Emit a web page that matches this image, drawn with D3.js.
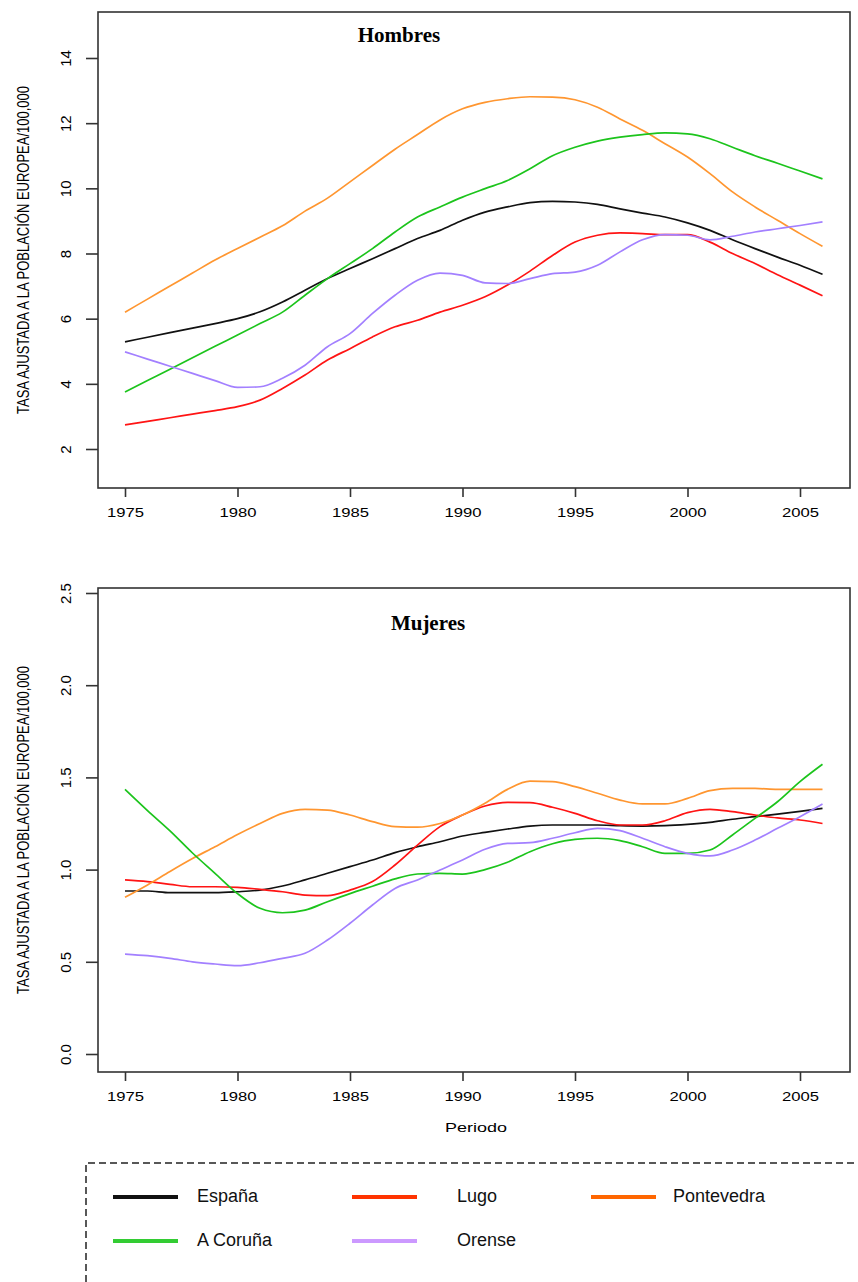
<!DOCTYPE html>
<html>
<head>
<meta charset="utf-8">
<script src="https://cdn.jsdelivr.net/npm/d3@7"></script>
<style>
  body { margin: 0; background: #fff; }
  svg { display: block; }
</style>
</head>
<body>
<script>
const years = [1975, 1976, 1977, 1978, 1979, 1980, 1981, 1982, 1983, 1984, 1985, 1986, 1987, 1988, 1989, 1990,
  1991, 1992, 1993, 1994, 1995, 1996, 1997, 1998, 1999, 2000, 2001, 2002, 2003, 2004, 2005, 2006]
const xTicks = [1975, 1980, 1985, 1990, 1995, 2000, 2005]

// Hombres
const hEspana = [5.29, 5.43, 5.57, 5.71, 5.85, 6.0, 6.21, 6.51, 6.87, 7.23, 7.54, 7.84, 8.15, 8.46, 8.71, 9.02,
  9.27, 9.43, 9.56, 9.6, 9.58, 9.51, 9.37, 9.24, 9.12, 8.94, 8.71, 8.42, 8.15, 7.89, 7.64, 7.36]
const hLugo = [2.74, 2.85, 2.96, 3.07, 3.18, 3.3, 3.5, 3.86, 4.27, 4.73, 5.08, 5.44, 5.75, 5.95, 6.2, 6.41,
  6.67, 7.03, 7.46, 7.94, 8.35, 8.56, 8.63, 8.61, 8.58, 8.58, 8.35, 8.0, 7.69, 7.35, 7.03, 6.7]
const hPontevedra = [6.2, 6.6, 7.0, 7.4, 7.8, 8.15, 8.5, 8.85, 9.3, 9.7, 10.2, 10.7, 11.2, 11.65, 12.1, 12.44,
  12.64, 12.75, 12.81, 12.8, 12.72, 12.49, 12.13, 11.78, 11.37, 10.96, 10.45, 9.89, 9.43, 9.02, 8.61, 8.22]
const hCoruna = [3.75, 4.1, 4.45, 4.8, 5.15, 5.5, 5.85, 6.2, 6.72, 7.23, 7.69, 8.15, 8.66, 9.12, 9.43, 9.73,
  9.99, 10.24, 10.6, 11.0, 11.26, 11.45, 11.57, 11.65, 11.7, 11.67, 11.52, 11.26, 11.0, 10.77, 10.53, 10.29]
const hOrense = [4.98, 4.76, 4.54, 4.32, 4.1, 3.89, 3.91, 4.17, 4.57, 5.14, 5.54, 6.16, 6.72, 7.18, 7.4, 7.33,
  7.1, 7.08, 7.23, 7.38, 7.43, 7.64, 8.05, 8.42, 8.58, 8.56, 8.42, 8.53, 8.66, 8.76, 8.86, 8.97]
const hTicks = [2, 4, 6, 8, 10, 12, 14]

// Mujeres
const mEspana = [0.884, 0.884, 0.875, 0.875, 0.875, 0.88, 0.889, 0.911, 0.944, 0.98, 1.016, 1.052, 1.092, 1.124, 1.151, 1.182,
  1.202, 1.22, 1.236, 1.242, 1.242, 1.242, 1.238, 1.236, 1.238, 1.245, 1.256, 1.273, 1.287, 1.301, 1.316, 1.332]
const mLugo = [0.944, 0.935, 0.92, 0.907, 0.907, 0.904, 0.893, 0.88, 0.862, 0.859, 0.889, 0.935, 1.025, 1.133, 1.233, 1.296,
  1.345, 1.365, 1.363, 1.338, 1.305, 1.265, 1.242, 1.242, 1.265, 1.309, 1.327, 1.314, 1.296, 1.28, 1.269, 1.25]
const mPontevedra = [0.85, 0.917, 0.99, 1.06, 1.124, 1.19, 1.25, 1.305, 1.327, 1.323, 1.296, 1.26, 1.233, 1.23, 1.25, 1.296,
  1.36, 1.435, 1.48, 1.477, 1.45, 1.414, 1.377, 1.356, 1.356, 1.386, 1.428, 1.44, 1.44, 1.435, 1.435, 1.435]
const mCoruna = [1.435, 1.32, 1.21, 1.09, 0.98, 0.87, 0.79, 0.766, 0.78, 0.826, 0.87, 0.91, 0.95, 0.976, 0.98, 0.976,
  1.0, 1.04, 1.097, 1.14, 1.164, 1.17, 1.157, 1.124, 1.088, 1.088, 1.106, 1.188, 1.278, 1.368, 1.477, 1.571]
const mOrense = [0.542, 0.533, 0.519, 0.5, 0.488, 0.479, 0.495, 0.519, 0.546, 0.618, 0.709, 0.808, 0.898, 0.944, 0.998, 1.052,
  1.11, 1.142, 1.146, 1.17, 1.2, 1.224, 1.211, 1.17, 1.124, 1.088, 1.074, 1.106, 1.16, 1.224, 1.287, 1.356]
const mTicks = [0.0, 0.5, 1.0, 1.5, 2.0, 2.5]

const seriesNames = ['España', 'Lugo', 'Pontevedra', 'A Coruña', 'Orense']
const lineColors = ['#111111', '#ff1414', '#ff9630', '#1cc41c', '#a380ff']
const legendColors = ['#111111', '#ff3300', '#ff6600', '#33cc33', '#cc99ff']

const w = 858
const h = 1282
const boxLeft = 98
const boxRight = 850
const yTitle = 'TASA AJUSTADA A LA POBLACIÓN EUROPEA/100,000'

const svg = d3.select('body')
  .append('svg')
  .attr('width', w)
  .attr('height', h)

const xScale = d3.scaleLinear()
  .domain([1975, 2006])
  .range([125, 822.5])

function drawPanel (cfg) {
  const yScale = d3.scaleLinear()
    .domain(cfg.domain)
    .range(cfg.range)

  const g = svg.append('g')

  const line = d3.line()
    .x((d, i) => xScale(years[i]))
    .y((d) => yScale(d))
    .curve(d3.curveMonotoneX)

  cfg.series.forEach((s, i) => {
    g.append('path')
      .datum(s)
      .attr('d', line)
      .attr('fill', 'none')
      .attr('stroke', lineColors[i])
      .attr('stroke-width', 1.7)
  })

  // frame
  g.append('rect')
    .attr('x', boxLeft)
    .attr('y', cfg.top)
    .attr('width', boxRight - boxLeft)
    .attr('height', cfg.bottom - cfg.top)
    .attr('fill', 'none')
    .attr('stroke', '#333')
    .attr('stroke-width', 1.6)

  const xAxis = d3.axisBottom(xScale)
    .tickValues(xTicks)
    .tickSize(9)
    .tickSizeOuter(0)
    .tickFormat(d3.format('d'))

  const xg = g.append('g')
    .attr('transform', `translate(0, ${cfg.bottom})`)
    .call(xAxis)
  xg.select('.domain').remove()
  xg.selectAll('line').attr('stroke', '#333').attr('stroke-width', 1.6)
  xg.selectAll('text')
    .attr('y', 20)
    .attr('dy', '0.71em')
    .attr('font-family', 'Liberation Sans, Arial, sans-serif')
    .attr('font-size', 12.5)
    .attr('fill', '#000')
    .attr('textLength', 37)
    .attr('lengthAdjust', 'spacingAndGlyphs')

  const yAxis = d3.axisLeft(yScale)
    .tickValues(cfg.ticks)
    .tickSize(12)
    .tickSizeOuter(0)
    .tickFormat(cfg.format)

  const yg = g.append('g')
    .attr('transform', `translate(${boxLeft}, 0)`)
    .call(yAxis)
  yg.select('.domain').remove()
  yg.selectAll('line').attr('stroke', '#333').attr('stroke-width', 1.6)
  yg.selectAll('text')
    .attr('x', null)
    .attr('dy', null)
    .attr('transform', 'translate(-27, 0) rotate(-90)')
    .attr('text-anchor', 'middle')
    .attr('font-family', 'Liberation Sans, Arial, sans-serif')
    .attr('font-size', 15)
    .attr('fill', '#000')

  // condensed look of the R title: natural length, taller glyphs
  g.append('text')
    .attr('transform', `translate(29, ${(cfg.top + cfg.bottom) / 2}) rotate(-90) scale(1, 1.3)`)
    .attr('text-anchor', 'middle')
    .attr('font-family', 'Liberation Sans, Arial, sans-serif')
    .attr('font-size', 13)
    .text(yTitle)

  g.append('text')
    .attr('x', cfg.titleX)
    .attr('y', cfg.titleY)
    .attr('text-anchor', 'middle')
    .attr('font-family', 'Liberation Serif, Times New Roman, serif')
    .attr('font-weight', 'bold')
    .attr('font-size', 21)
    .text(cfg.title)
}

drawPanel({
  title: 'Hombres', titleX: 399, titleY: 42,
  top: 12, bottom: 488,
  domain: [2, 14], range: [449, 58],
  ticks: hTicks, format: d3.format('d'),
  series: [hEspana, hLugo, hPontevedra, hCoruna, hOrense]
})

drawPanel({
  title: 'Mujeres', titleX: 428, titleY: 630,
  top: 588, bottom: 1072,
  domain: [0, 2.5], range: [1054, 593],
  ticks: mTicks, format: d3.format('.1f'),
  series: [mEspana, mLugo, mPontevedra, mCoruna, mOrense]
})

svg.append('text')
  .attr('x', 476)
  .attr('y', 1132)
  .attr('text-anchor', 'middle')
  .attr('font-family', 'Liberation Sans, Arial, sans-serif')
  .attr('font-size', 12.5)
  .attr('textLength', 62)
  .attr('lengthAdjust', 'spacingAndGlyphs')
  .text('Periodo')

// legend
svg.append('path')
  .attr('d', `M86,${h} V1163 H${w}`)
  .attr('fill', 'none')
  .attr('stroke', '#222')
  .attr('stroke-width', 1.5)
  .attr('stroke-dasharray', '7,4')

const legendPos = [
  { lx: 113, tx: 197, y: 1197 },
  { lx: 352, tx: 457, y: 1197 },
  { lx: 591, tx: 673, y: 1197 },
  { lx: 113, tx: 197, y: 1241 },
  { lx: 352, tx: 457, y: 1241 }
]

const legend = svg.append('g')
  .selectAll('g')
  .data(seriesNames)
  .enter()
  .append('g')

legend.append('line')
  .attr('x1', (d, i) => legendPos[i].lx)
  .attr('x2', (d, i) => legendPos[i].lx + 65)
  .attr('y1', (d, i) => legendPos[i].y)
  .attr('y2', (d, i) => legendPos[i].y)
  .attr('stroke', (d, i) => legendColors[i])
  .attr('stroke-width', 4)

legend.append('text')
  .attr('x', (d, i) => legendPos[i].tx)
  .attr('y', (d, i) => legendPos[i].y + 5)
  .attr('font-family', 'Liberation Sans, Arial, sans-serif')
  .attr('font-size', 18)
  .attr('fill', '#111')
  .text((d) => d)
</script>
</body>
</html>
